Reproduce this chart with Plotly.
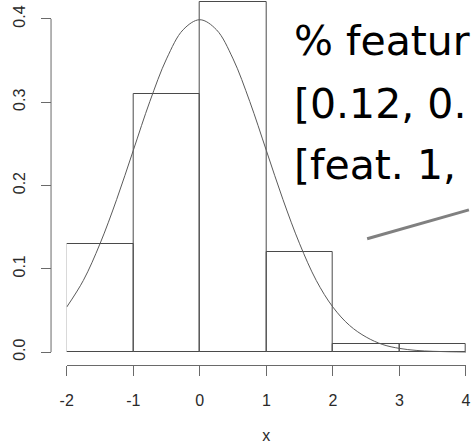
import plotly.graph_objects as go

# Histogram bins (left edges) and heights (density)
bin_left = [-2, -1, 0, 1, 2, 3]
bin_height = [0.13, 0.31, 0.42, 0.12, 0.01, 0.01]

# Overlaid density curve
curve_x = [-2.0, -1.75, -1.5, -1.25, -1.0, -0.75, -0.5, -0.25, 0.0, 0.25, 0.5, 0.75,
           1.0, 1.25, 1.5, 1.75, 2.0, 2.25, 2.5, 2.75, 3.0, 3.25, 3.5, 3.75, 4.0]
curve_y = [0.054, 0.086, 0.130, 0.183, 0.242, 0.301, 0.352, 0.387, 0.399, 0.387, 0.352, 0.301,
           0.242, 0.183, 0.130, 0.086, 0.054, 0.032, 0.018, 0.009, 0.0044, 0.002, 0.0009, 0.0004, 0.0001]

x_ticks = [-2, -1, 0, 1, 2, 3, 4]
y_ticks = [0.0, 0.1, 0.2, 0.3, 0.4]
y_tick_text = ["0.0", "0.1", "0.2", "0.3", "0.4"]

callout_lines = ["% featur", "[0.12, 0.", "[feat. 1,"]

W, H = 471, 444
ML, MR, MT, MB = 0, 2, 0, 77
PW = W - ML - MR
PH = H - MT - MB
PX_PER_UNIT = 837.5

def px_x(p):
    return (p - ML) / PW

def px_y(p):
    return 1 - (p - MT) / PH

AXIS_C = "#6a6a6a"
TXT_C = "#2a2a2a"
FONT = "Liberation Sans, Arial"

fig = go.Figure()
fig.add_trace(go.Bar(
    x=[b + 0.5 for b in bin_left], y=bin_height, width=1,
    marker=dict(color="rgba(255,255,255,0)", line=dict(color="#4a4a4a", width=1)),
    cliponaxis=False, showlegend=False, hoverinfo="skip",
))
fig.add_trace(go.Scatter(
    x=curve_x, y=curve_y, mode="lines", line=dict(color="#5a5a5a", width=1, shape="spline"),
    showlegend=False, hoverinfo="skip",
))

fig.update_layout(
    width=W, height=H,
    margin=dict(l=ML, r=MR, t=MT, b=MB),
    plot_bgcolor="white", paper_bgcolor="white",
    bargap=0,
    xaxis=dict(
        domain=[px_x(61), 1], range=[-2, 4],
        tickmode="array", tickvals=x_ticks, ticktext=[str(t) for t in x_ticks],
        ticks="outside", ticklen=10, tickcolor=AXIS_C, tickwidth=1,
        showline=True, linecolor=AXIS_C, linewidth=1,
        showgrid=False, zeroline=False,
        ticklabeloverflow="allow",
        ticklabelstandoff=11,
        tickfont=dict(family=FONT, size=16, color=TXT_C),
        title=dict(text="x", font=dict(family=FONT, size=16, color=TXT_C), standoff=24),
    ),
    yaxis=dict(
        anchor="free", position=px_x(45),
        range=[-13 / PX_PER_UNIT, 354 / PX_PER_UNIT],
        tickmode="array", tickvals=y_ticks, ticktext=y_tick_text,
        ticks="outside", ticklen=10, tickcolor=AXIS_C, tickwidth=1,
        showline=False, showgrid=False, zeroline=False,
        tickangle=-90,
        ticklabelstandoff=10,
        tickfont=dict(family=FONT, size=16, color=TXT_C),
    ),
    shapes=[
        dict(type="line", xref="paper", yref="y", x0=px_x(45), x1=px_x(45), y0=0, y1=0.4,
             line=dict(color=AXIS_C, width=1)),
        dict(type="line", xref="paper", yref="paper", x0=px_x(368), y0=px_y(240), x1=px_x(472), y1=px_y(211),
             line=dict(color="#808080", width=3)),
    ],
)

tops = [25, 88, 150]
for txt, top in zip(callout_lines, tops):
    fig.add_annotation(
        text=txt, xref="paper", yref="paper", x=px_x(291), y=px_y(top - 10),
        xanchor="left", yanchor="top", showarrow=False,
        font=dict(family="DejaVu Sans", size=41, color="black"),
    )

fig.write_html("out.html")
